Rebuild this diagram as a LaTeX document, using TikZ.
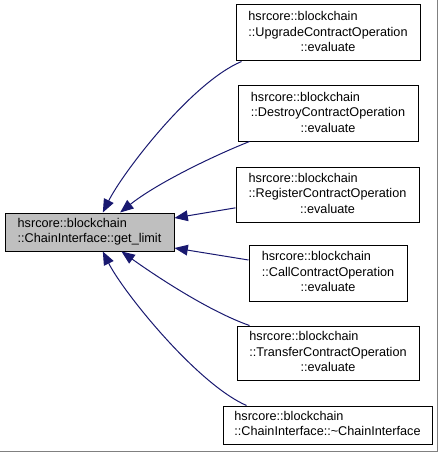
\documentclass[tikz,border=0pt]{standalone}
\usepackage{fontspec}
\setmainfont{Liberation Sans}
\usepackage{xcolor}
\usetikzlibrary{arrows.meta, positioning}

\definecolor{edgeblue}{HTML}{191970}
\definecolor{funcgray}{HTML}{BFBFBF}

\newcommand{\opname}[1]{\begin{tabular}{@{}l@{}}hsrcore::blockchain\\::#1ContractOperation\\\multicolumn{1}{@{}c@{}}{::evaluate}\end{tabular}}

\begin{document}
\begin{tikzpicture}[
  x=0.75pt, y=-0.75pt,
  font=\fontsize{9.5}{11.6}\selectfont,
  funcbox/.style={draw=black, line width=0.75pt, fill=white,
                  inner sep=0pt, align=center},
  callarrow/.style={{Triangle[length=10pt, width=8pt]}-,
                    draw=edgeblue, line width=0.75pt}
]

\useasboundingbox (0,0) rectangle (439,453);

% image frame
\draw[black!50, line width=1.2pt] (437.5,0) -- (437.5,451.5) -- (0,451.5);

\node[funcbox, fill=funcgray, minimum width=126.75pt, minimum height=28.5pt]
  (main) at (89.5,232)
  {\begin{tabular}{@{}l@{}}hsrcore::blockchain\\::ChainInterface::get\_limit\end{tabular}};

\foreach \nm/\op/\cx/\cy/\w/\h in {upgrade/Upgrade/328/33/138/42,
    destroy/Destroy/328/113.5/135/41.25,
    register/Register/327.5/194.5/137.25/41.25,
    call/Call/328/273/118.5/42,
    transfer/Transfer/328/353/136.5/40.5}{
  \node[funcbox, minimum width=\w pt, minimum height=\h pt] (\nm) at (\cx,\cy) {\opname{\op}};
}

\node[funcbox, minimum width=156.75pt, minimum height=28.5pt] (dtor) at (327.5,425)
  {\begin{tabular}{@{}l@{}}hsrcore::blockchain\\::ChainInterface::\textasciitilde ChainInterface\end{tabular}};

% callers
\draw[callarrow] ([xshift=10pt]main.north) .. controls +(20,-40) and +(-50,21) .. ([xshift=4.5pt]upgrade.south west);
\draw[callarrow] ([xshift=23pt]main.north) .. controls +(35,-28) and +(-40,16) .. ([xshift=9pt]destroy.south west);
\draw[callarrow] ([yshift=10.5pt]main.east) -- ([yshift=-10pt]register.west);
\draw[callarrow] ([yshift=-12pt]main.east) -- ([yshift=9.75pt]call.west);
\draw[callarrow] ([xshift=24pt]main.south) .. controls +(35,25) and +(-40,-14) .. ([xshift=9.75pt]transfer.north west);
\draw[callarrow] ([xshift=10pt]main.south) .. controls +(20,40) and +(-50,-22) .. ([xshift=18pt]dtor.north west);

\end{tikzpicture}
\end{document}
